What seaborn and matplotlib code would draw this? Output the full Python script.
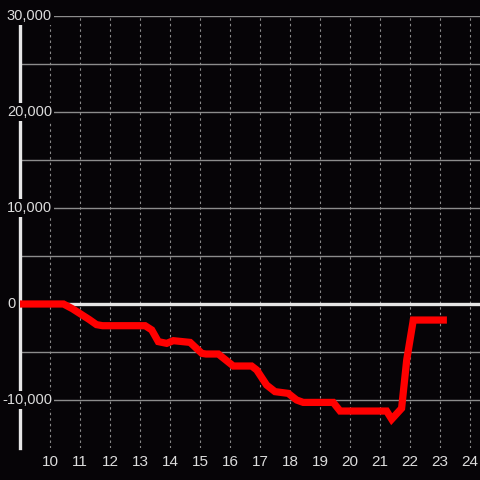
import matplotlib
matplotlib.use("Agg")
import matplotlib.pyplot as plt
import matplotlib.transforms as mtransforms
import seaborn as sns
import pandas as pd

hours = [9.0, 10.45, 10.75, 11.0, 11.3, 11.55, 11.75, 13.17, 13.39, 13.61, 13.89, 14.11,
         14.67, 15.06, 15.2, 15.61, 16.11, 16.72, 16.89, 17.22, 17.5, 17.94, 18.22, 18.44,
         19.44, 19.67, 21.22, 21.39, 21.72, 21.89, 22.11, 23.23]
values = [0, 0, -500, -1000, -1600, -2150, -2260, -2260, -2700, -3920, -4100, -3820,
          -4000, -5140, -5210, -5210, -6460, -6460, -6870, -8440, -9130, -9310, -10000, -10250,
          -10250, -11150, -11150, -12000, -10870, -5830, -1670, -1670]
x_ticks = list(range(10, 25))
y_ticks = [-10000, 0, 10000, 20000, 30000]
y_grid = [-10000, -5000, 0, 5000, 10000, 15000, 20000, 25000, 30000]

df = pd.DataFrame({"hour": hours, "value": values})

bg = "#060407"
txt = "#dcdcdc"
sns.set_theme(style="dark")
plt.rcParams["font.family"] = ["Liberation Sans", "DejaVu Sans"]

fig = plt.figure(figsize=(4.8, 4.8), dpi=100, facecolor=bg)
ax = fig.add_axes([20 / 480, 32 / 480, 460 / 480, 432 / 480])
ax.set_facecolor(bg)

ax.set_xlim(9.0, 9.0 + 460 / 30)
ax.set_ylim(-15000, 30000)

ax.set_axisbelow(True)
ax.set_xticks(x_ticks)
ax.set_xticklabels([str(t) for t in x_ticks])
ax.xaxis.grid(True, color="#8a8a8a", linestyle=(0, (2.2, 2.8)), linewidth=0.8)
ax.yaxis.grid(False)

for g in y_grid:
    ax.axhline(g, color="#8c8c8c", linewidth=1.0, zorder=0.6)
ax.axhline(0, color="#e6e6e6", linewidth=2.4, zorder=1)

sns.lineplot(data=df, x="hour", y="value", ax=ax, color="#ff0000", linewidth=5.2,
             zorder=2, legend=False)
for ln in ax.lines[-1:]:
    ln.set_solid_joinstyle("miter")
    ln.set_solid_capstyle("butt")

for s in ["top", "right", "bottom"]:
    ax.spines[s].set_visible(False)
ax.spines["left"].set_color("#e6e6e6")
ax.spines["left"].set_linewidth(2.4)
ax.spines["left"].set_zorder(0.7)

ax.set_yticks([])
trans = mtransforms.blended_transform_factory(ax.transAxes, ax.transData)
for v in y_ticks:
    xr = (16 - 20) / 460 if v == 0 else (52 - 20) / 460
    ax.text(xr, v, f"{v:,}", transform=trans, ha="right", va="center",
            fontsize=10.5, color=txt, zorder=3,
            bbox=dict(facecolor=bg, edgecolor="none", pad=1.5))

ax.tick_params(axis="x", length=0, pad=5, labelsize=11, labelcolor=txt)

ax.set_xlabel("")
ax.set_ylabel("")

fig.savefig("out.png", dpi=100, facecolor=bg)
